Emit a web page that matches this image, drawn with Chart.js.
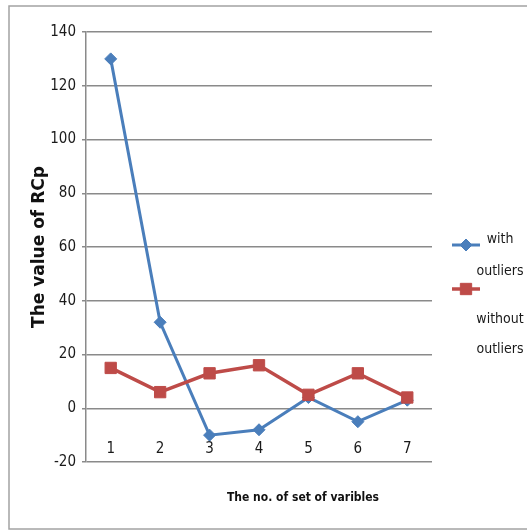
<!DOCTYPE html>
<html>
<head>
<meta charset="utf-8">
<script src="https://cdn.jsdelivr.net/npm/chart.js@4/dist/chart.umd.min.js"></script>
<style>
  html, body { margin: 0; padding: 0; background: #ffffff; }
  #wrap { width: 527px; height: 531px; }
</style>
</head>
<body>
<div id="wrap"><canvas id="c" width="527" height="531"></canvas></div>
<script>
// Data
const categories = ['1', '2', '3', '4', '5', '6', '7'];
const withOutliers = [130, 32, -10, -8, 4, -5, 3];
const withoutOutliers = [15, 6, 13, 16, 5, 13, 4];
const yMin = -20;
const yMax = 140;
const yStep = 20;
const seriesNames = ['with outliers', 'without outliers'];
const xTitle = 'The no. of set of varibles';
const yTitle = 'The value of RCp';

const NARROW = '"Liberation Sans Narrow", "DejaVu Sans Condensed", "Roboto Condensed", Roboto, sans-serif';
const BLUE = '#4a7ebb';
const RED = '#be4b48';

// Light gray frame around the whole chart
const framePlugin = {
  id: 'frame',
  beforeDraw(chart) {
    const ctx = chart.ctx;
    ctx.save();
    ctx.fillStyle = '#ffffff';
    ctx.fillRect(0, 0, chart.width, chart.height);
    ctx.strokeStyle = '#a3a3a3';
    ctx.lineWidth = 1.5;
    ctx.strokeRect(9, 6, chart.width + 20, chart.height - 8);
    ctx.restore();
  }
};

// Horizontal axis title, placed off-centre under the plot
const xTitlePlugin = {
  id: 'xTitle',
  afterDraw(chart) {
    const ctx = chart.ctx;
    ctx.save();
    ctx.font = 'bold 12px ' + NARROW;
    ctx.fillStyle = '#111111';
    ctx.textAlign = 'center';
    ctx.textBaseline = 'middle';
    ctx.fillText(xTitle, 303, 498);
    ctx.restore();
  }
};

// Legend on the right with wrapped series names
const legendLayout = [
  { markerY: 245, lines: [239, 271] },
  { markerY: 289, lines: [319, 349] }
];
const legendPlugin = {
  id: 'sideLegend',
  afterDraw(chart) {
    const ctx = chart.ctx;
    ctx.save();
    chart.data.datasets.forEach((ds, i) => {
      const lay = legendLayout[i];
      ctx.strokeStyle = ds.borderColor;
      ctx.fillStyle = ds.backgroundColor;
      ctx.lineWidth = ds.borderWidth;
      ctx.beginPath();
      ctx.moveTo(452, lay.markerY);
      ctx.lineTo(480, lay.markerY);
      ctx.stroke();
      ctx.lineWidth = 1;
      Chart.helpers.drawPoint(ctx, {
        pointStyle: ds.pointStyle, rotation: 0, radius: ds.pointRadius, borderWidth: 1
      }, 466, lay.markerY);
      ctx.font = '14px ' + NARROW;
      ctx.fillStyle = '#1a1a1a';
      ctx.textAlign = 'center';
      ctx.textBaseline = 'middle';
      const words = ds.label.split(' ');
      words.forEach((w, k) => ctx.fillText(w, 500, lay.lines[k]));
    });
    ctx.restore();
  }
};

new Chart(document.getElementById('c'), {
  type: 'line',
  data: {
    labels: categories,
    datasets: [
      {
        label: seriesNames[0],
        data: withOutliers,
        borderColor: BLUE,
        backgroundColor: BLUE,
        borderWidth: 3,
        pointStyle: 'rectRot',
        pointRadius: 6,
        pointBorderWidth: 1,
        tension: 0,
        order: 1
      },
      {
        label: seriesNames[1],
        data: withoutOutliers,
        borderColor: RED,
        backgroundColor: RED,
        borderWidth: 3.5,
        pointStyle: 'rect',
        pointRadius: 8,
        pointBorderWidth: 1,
        tension: 0,
        order: 0
      }
    ]
  },
  options: {
    responsive: false,
    animation: false,
    devicePixelRatio: 1,
    layout: { padding: { top: 32, right: 95, left: 0, bottom: 69 } },
    plugins: {
      legend: { display: false },
      tooltip: { enabled: false }
    },
    scales: {
      x: {
        position: { y: 0 },
        offset: true,
        grid: { display: false, drawTicks: false },
        border: { display: false },
        ticks: {
          padding: 32,
          color: '#1a1a1a',
          font: { family: NARROW, size: 15 }
        }
      },
      y: {
        min: yMin,
        max: yMax,
        ticks: {
          stepSize: yStep,
          padding: 6,
          color: '#1a1a1a',
          font: { family: NARROW, size: 15 }
        },
        grid: { color: '#8a8a8a', lineWidth: 1.5, tickLength: 4, drawTicks: true },
        border: { color: '#8a8a8a', width: 1.5 },
        title: {
          display: true,
          text: yTitle,
          color: '#111111',
          font: { family: '"DejaVu Sans", Verdana, sans-serif', weight: 'bold', size: 17 },
          padding: { top: 29, bottom: 0 }
        },
        afterFit(scale) { scale.width = 86; }
      }
    }
  },
  plugins: [framePlugin, legendPlugin, xTitlePlugin]
});
</script>
</body>
</html>
